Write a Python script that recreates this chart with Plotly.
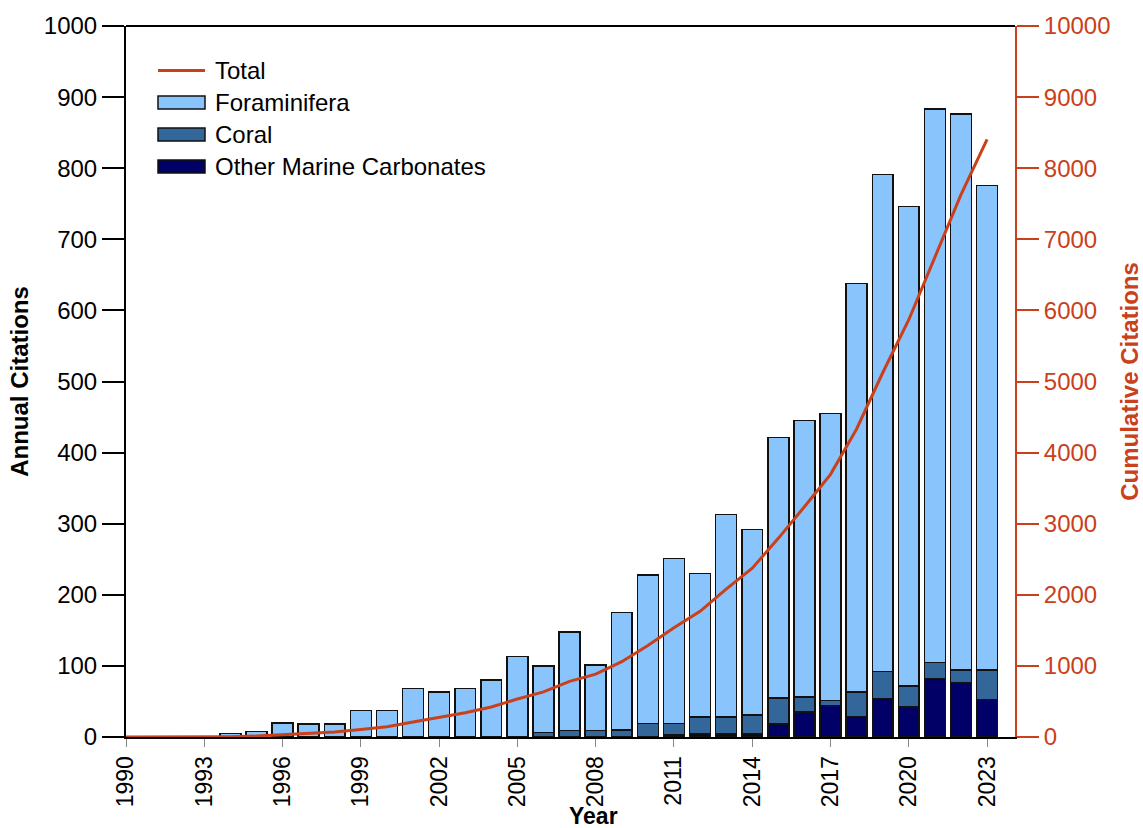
import numpy as np
import plotly.graph_objects as go

# Annual citation counts by archive type
years = list(range(1990, 2024))
foraminifera = [0, 0, 0, 0, 5, 8, 20, 18, 18, 37, 37, 68, 63, 68, 80,
                112, 94, 139, 92, 165, 209, 232, 202, 285, 261,
                366, 389, 404, 575, 699, 674, 778, 782, 682]
coral = [0, 0, 0, 0, 0, 0, 0, 0, 0, 0, 0, 0, 0, 0, 0,
         1, 5, 8, 8, 9, 18, 16, 24, 24, 27,
         37, 21, 7, 34, 38, 30, 23, 18, 41]
other = [0, 0, 0, 0, 0, 0, 0, 0, 0, 0, 0, 0, 0, 0, 0,
         0, 1, 1, 1, 1, 1, 3, 4, 4, 4,
         18, 35, 44, 29, 54, 42, 82, 76, 53]

annual_total = np.array(foraminifera) + np.array(coral) + np.array(other)
cumulative = np.cumsum(annual_total)

x_ticks = list(range(1990, 2024, 3))

RED = "#C9401B"
FORAM_C = "#8AC4FC"
CORAL_C = "#336699"
OTHER_C = "#000066"
FONT = "Liberation Sans, Arial, sans-serif"
FS = 24

W, H = 1143, 828
M_L, M_R, M_T, M_B = 126, 128, 26, 91
PW, PH = W - M_L - M_R, H - M_T - M_B


def px_x(px):
    return (px - M_L) / PW


def px_y(py):
    return (H - M_B - py) / PH


fig = go.Figure()

bar_line = dict(color="#111111", width=1.5)
fig.add_trace(go.Bar(x=years, y=other, name="Other Marine Carbonates",
                     marker=dict(color=OTHER_C, line=bar_line), width=0.8))
fig.add_trace(go.Bar(x=years, y=coral, name="Coral",
                     marker=dict(color=CORAL_C, line=bar_line), width=0.8))
fig.add_trace(go.Bar(x=years, y=foraminifera, name="Foraminifera",
                     marker=dict(color=FORAM_C, line=bar_line), width=0.8))
fig.add_trace(go.Scatter(x=years, y=cumulative, name="Total", mode="lines",
                         line=dict(color=RED, width=3), yaxis="y2"))

# Legend drawn as wide swatches with labels in the upper-left corner
legend_items = [("Total", None), ("Foraminifera", FORAM_C),
                ("Coral", CORAL_C), ("Other Marine Carbonates", OTHER_C)]
row0, row_gap = 70.5, 32
shapes = []
annotations = []
for i, (label, color) in enumerate(legend_items):
    cy = row0 + i * row_gap
    if color is None:
        shapes.append(dict(type="line", xref="paper", yref="paper",
                           x0=px_x(158), x1=px_x(205), y0=px_y(cy), y1=px_y(cy),
                           line=dict(color=RED, width=3)))
    else:
        shapes.append(dict(type="rect", xref="paper", yref="paper",
                           x0=px_x(158), x1=px_x(205),
                           y0=px_y(cy + 6.5), y1=px_y(cy - 6.5),
                           fillcolor=color, line=dict(color="#111111", width=1.5)))
    annotations.append(dict(text=label, xref="paper", yref="paper",
                            x=px_x(213), y=px_y(cy), xanchor="left",
                            yanchor="middle", showarrow=False,
                            font=dict(size=FS, color="black")))

# x-axis title, placed just beneath the rotated year labels
annotations.append(dict(text="<b>Year</b>", xref="paper", yref="paper",
                        x=px_x(593), y=px_y(831), xanchor="center",
                        yanchor="bottom", showarrow=False,
                        font=dict(size=23, color="black")))

# frame line along the top of the plotting area
shapes.append(dict(type="line", xref="paper", yref="paper", x0=0, x1=1,
                   y0=1, y1=1, line=dict(color="black", width=2)))

fig.update_layout(
    width=W, height=H,
    margin=dict(l=M_L, r=M_R, t=M_T, b=M_B, autoexpand=False),
    paper_bgcolor="white", plot_bgcolor="white",
    barmode="stack", bargap=0.2,
    font=dict(family=FONT, size=FS, color="black"),
    showlegend=False,
    shapes=shapes, annotations=annotations,
    xaxis=dict(range=[1990, 2024.07], tickvals=x_ticks,
               ticktext=[str(t) for t in x_ticks], tickangle=-90,
               ticks="outside", ticklen=8, tickcolor="#888888", tickwidth=1,
               showline=True, linecolor="black", linewidth=2,
               showgrid=False, zeroline=False,
               tickfont=dict(size=23)),
    yaxis=dict(range=[0, 1000], dtick=100, ticks="outside", ticklen=22,
               tickcolor="black", tickwidth=1.5,
               showline=True, linecolor="black", linewidth=2,
               showgrid=False, zeroline=False,
               title=dict(text="<b>Annual Citations</b>", font=dict(size=FS),
                          standoff=8),
               tickfont=dict(size=FS)),
    yaxis2=dict(range=[0, 10000], dtick=1000, tickformat="d",
                overlaying="y", side="right",
                ticks="outside", ticklen=22, tickcolor=RED, tickwidth=1.5,
                showline=True, linecolor=RED, linewidth=2,
                showgrid=False, zeroline=False,
                tickfont=dict(size=FS, color=RED),
                title=dict(text="<b>Cumulative Citations</b>",
                           font=dict(size=FS, color=RED), standoff=12)),
)

fig.write_html("out.html")
